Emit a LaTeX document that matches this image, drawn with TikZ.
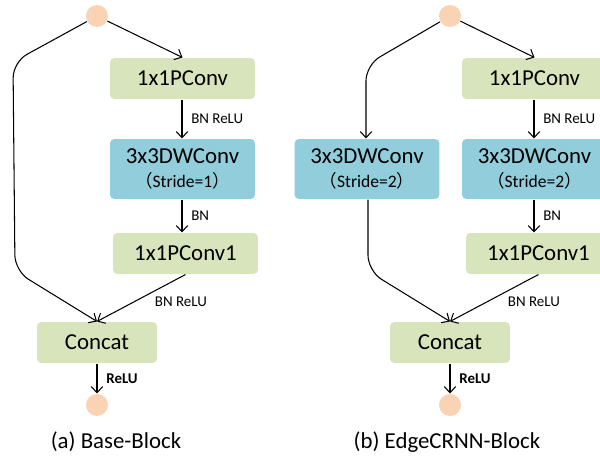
\documentclass[tikz,border=0pt]{standalone}
\usepackage{fontspec}
\setmainfont{Carlito}
\newfontfamily\cjk{Noto Sans CJK SC}
\usepackage{tikz}
\usetikzlibrary{arrows.meta}

\definecolor{boxgreen}{HTML}{D8E4BC}
\definecolor{boxblue}{HTML}{92CDDC}
\definecolor{dotpeach}{HTML}{FAD3B4}

\begin{document}
\begin{tikzpicture}[x=0.02cm,y=-0.02cm,line width=0.6pt,
  >={Straight Barb[length=3.5pt,width=6.5pt]},
  pconv/.style={rectangle,rounded corners=2.5pt,fill=boxgreen,minimum width=2.9cm,minimum height=0.82cm,font=\fontsize{13}{15}\selectfont},
  dwconv/.style={rectangle,rounded corners=2.5pt,fill=boxblue,minimum width=2.9cm,minimum height=1.2cm,align=center,font=\fontsize{13}{15}\selectfont},
  catbox/.style={pconv,minimum width=2.4cm},
  dot/.style={circle,fill=dotpeach,minimum size=0.44cm,inner sep=0pt},
  lbl/.style={font=\fontsize{8.5}{10}\selectfont,inner sep=2pt},
  caption/.style={font=\fontsize{13}{15}\selectfont}]
\useasboundingbox (0,0) rectangle (600,460);
\clip (0,0) rectangle (600,460);

% (a) base block
\node[dot] (inA) at (97,16) {};
\node[pconv] (pcA) at (182.5,78.5) {1x1PConv};
\node[dwconv] (dwA) at (182.5,169) {3x3DWConv\\[-1pt]{\fontsize{10}{12}\selectfont{\cjk （}Stride=1{\cjk ）}}};
\node[pconv] (pc1A) at (185.5,253.5) {1x1PConv1};
\node[catbox] (catA) at (97,342.5) {Concat};
\node[dot] (outA) at (97,405) {};
\node[caption] (capA) at (116,442) {(a) Base-Block};
\coordinate (topA) at (13,62);
\coordinate (botA) at (15,271);

\draw[->] (inA) -- (pcA.north);
\draw[->] (pcA.south -| 182,0) -- (dwA.north -| 182,0) node[lbl,midway,right=3pt] {BN ReLU};
\draw[->] (dwA.south -| 182,0) -- (pc1A.north -| 182,0) node[lbl,midway,right=3pt] {BN};
\draw[->] (pc1A.south) -- (catA.north) node[lbl,pos=0.57,right=9pt] {BN ReLU};
\draw[->,rounded corners=9pt] (inA) -- (topA) -- (botA) -- (catA.north);
\draw[->] (catA) -- (outA) node[lbl,midway,right=3pt] {\bfseries ReLU};

% (b) edgecrnn block
\node[dot] (inB) at (450,16) {};
\node[pconv] (pcB) at (534.5,78.5) {1x1PConv};
\node[dwconv] (dwLB) at (367,169) {3x3DWConv\\[-1pt]{\fontsize{10}{12}\selectfont{\cjk （}Stride=2{\cjk ）}}};
\node[dwconv] (dwB) at (534.5,169) {3x3DWConv\\[-1pt]{\fontsize{10}{12}\selectfont{\cjk （}Stride=2{\cjk ）}}};
\node[pconv] (pc1B) at (538.5,253.5) {1x1PConv1};
\node[catbox] (catB) at (450,342.5) {Concat};
\node[dot] (outB) at (450,405) {};
\node[caption] (capB) at (447,442) {(b) EdgeCRNN-Block};
\coordinate (topB) at (366,65);
\coordinate (botB) at (368,271);

\draw[->] (inB) -- (pcB.north);
\draw[->,rounded corners=9pt] (inB) -- (topB) -- (dwLB.north -| 366,0);
\draw[->] (pcB.south -| 534,0) -- (dwB.north -| 534,0) node[lbl,midway,right=3pt] {BN ReLU};
\draw[->] (dwB.south -| 534,0) -- (pc1B.north -| 534,0) node[lbl,midway,right=3pt] {BN};
\draw[->] (pc1B.south) -- (catB.north) node[lbl,pos=0.57,right=9pt] {BN ReLU};
\draw[->,rounded corners=9pt] (dwLB.south -| 368,0) -- (botB) -- (catB.north);
\draw[->] (catB) -- (outB) node[lbl,midway,right=3pt] {\bfseries ReLU};
\end{tikzpicture}
\end{document}
